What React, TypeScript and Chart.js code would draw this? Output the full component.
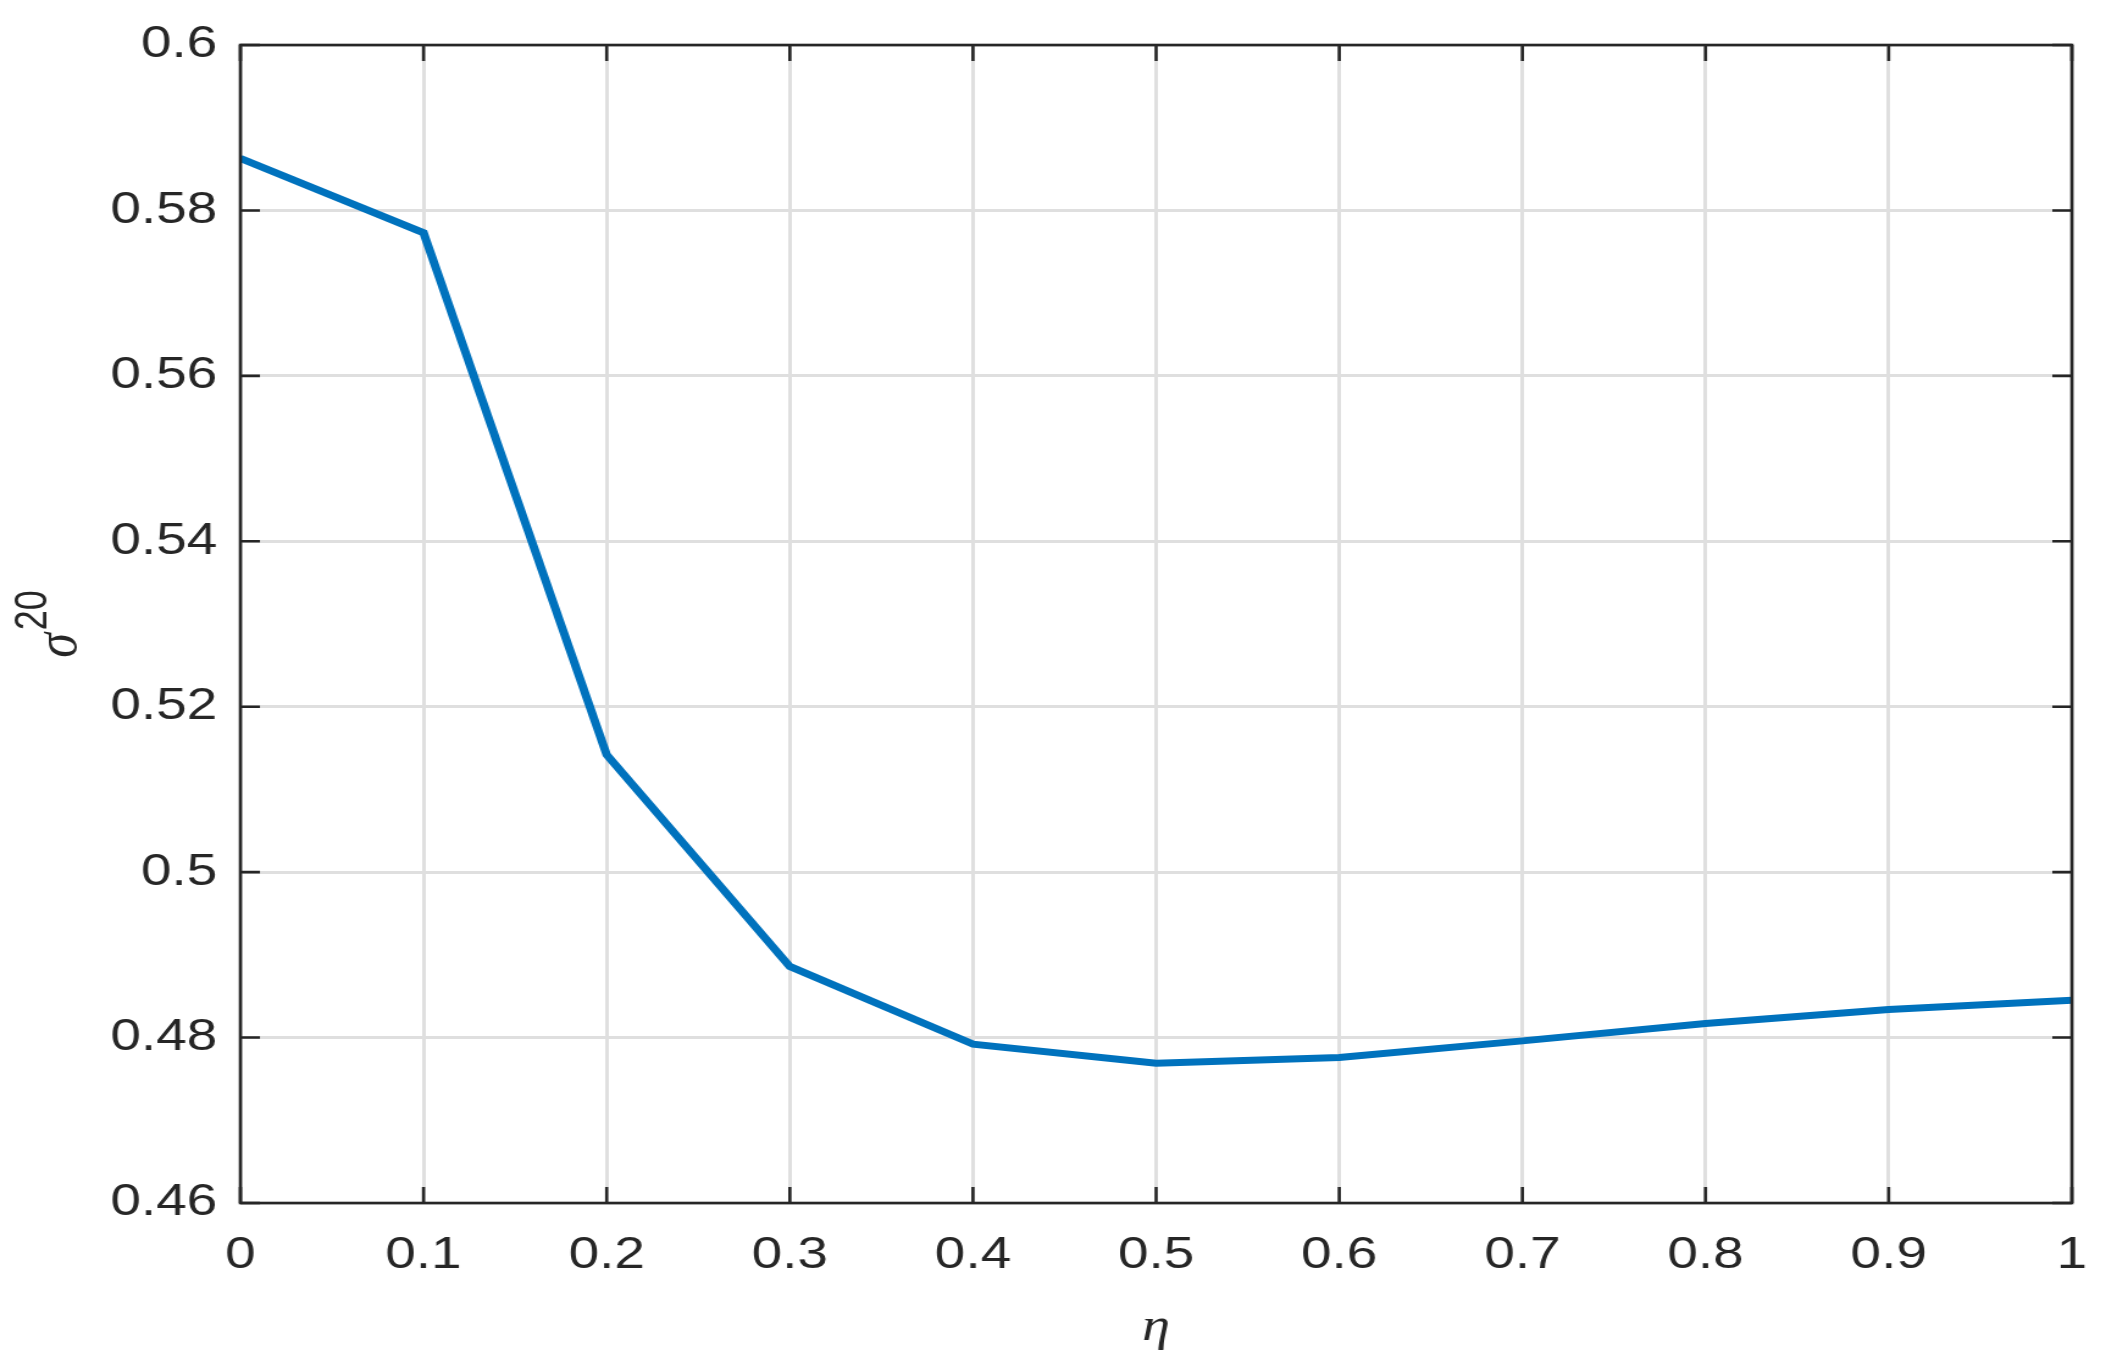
import React, { useEffect, useRef } from "react";
import { Chart, registerables } from "chart.js";

Chart.register(...registerables);

// ---- data ----
const etaValues: number[] = [0, 0.1, 0.2, 0.3, 0.4, 0.5, 0.6, 0.7, 0.8, 0.9, 1];
const sigmaValues: number[] = [0.5863, 0.5773, 0.5142, 0.4886, 0.4792, 0.4769, 0.4776, 0.4796, 0.4817, 0.4834, 0.4845];
const xTickRange = { min: 0, max: 1, step: 0.1 };
const yTickRange = { min: 0.46, max: 0.6, step: 0.02 };
const xTitle = "η";
const yTitleBase = "σ";
const yTitleSup = "20";

// ---- style ----
const OUT_W = 2106;
const OUT_H = 1368;
const STRETCH = 1.2202;
const IN_W = Math.round(OUT_W / STRETCH);
const AXIS_COLOR = "#262626";
const GRID_COLOR = "#dfdfdf";
const LINE_COLOR = "#0072BD";
const TICK_LEN = 16;

const fmt = (v: number) => String(Math.round(v * 1000) / 1000);

const framePlugin = {
  id: "matlabFrame",
  afterDraw(chart: any) {
    const { ctx, chartArea: a, scales } = chart;
    const xs = scales.x;
    const ys = scales.y;
    ctx.save();
    ctx.strokeStyle = AXIS_COLOR;
    ctx.lineWidth = 2.6;
    ctx.beginPath();
    xs.ticks.forEach((t: any) => {
      const px = xs.getPixelForValue(t.value);
      ctx.moveTo(px, a.bottom);
      ctx.lineTo(px, a.bottom - TICK_LEN);
      ctx.moveTo(px, a.top);
      ctx.lineTo(px, a.top + TICK_LEN);
    });
    ys.ticks.forEach((t: any) => {
      const py = ys.getPixelForValue(t.value);
      ctx.moveTo(a.left, py);
      ctx.lineTo(a.left + TICK_LEN, py);
      ctx.moveTo(a.right, py);
      ctx.lineTo(a.right - TICK_LEN, py);
    });
    ctx.stroke();
    ctx.strokeRect(a.left, a.top, a.right - a.left, a.bottom - a.top);

    // y-axis title: sigma with superscript 20, rotated
    const cy = (a.top + a.bottom) / 2;
    ctx.translate(63, cy);
    ctx.rotate(-Math.PI / 2);
    ctx.fillStyle = AXIS_COLOR;
    ctx.textBaseline = "alphabetic";
    ctx.textAlign = "left";
    const baseFont = 'italic 50px "Liberation Serif"';
    const supFont = '36px "Liberation Sans"';
    ctx.font = baseFont;
    const wS = ctx.measureText(yTitleBase).width;
    ctx.font = supFont;
    const w2 = ctx.measureText(yTitleSup).width;
    const gap = 3;
    const total = wS + gap + w2;
    const x0 = -total / 2;
    ctx.font = baseFont;
    ctx.fillText(yTitleBase, x0, 0);
    ctx.font = supFont;
    ctx.fillText(yTitleSup, x0 + wS + gap, -25);
    ctx.restore();
  },
};

export default function App() {
  const ref = useRef<HTMLCanvasElement | null>(null);

  useEffect(() => {
    document.body.style.margin = "0";
    const canvas = ref.current;
    if (!canvas) return;
    const chart = new Chart(canvas, {
      type: "line",
      data: {
        datasets: [
          {
            data: etaValues.map((x, i) => ({ x, y: sigmaValues[i] })),
            borderColor: LINE_COLOR,
            backgroundColor: LINE_COLOR,
            borderWidth: 7,
            pointRadius: 0,
            tension: 0,
            fill: false,
          },
        ],
      },
      options: {
        responsive: false,
        animation: false,
        devicePixelRatio: 1,
        layout: { padding: { left: 0, right: 28, top: 45, bottom: 0 } },
        plugins: { legend: { display: false }, tooltip: { enabled: false } },
        scales: {
          x: {
            type: "linear",
            min: xTickRange.min,
            max: xTickRange.max,
            afterFit: (s: any) => {
              s.height = 165;
              s.paddingLeft = 0;
              s.paddingRight = 0;
            },
            ticks: {
              stepSize: xTickRange.step,
              autoSkip: false,
              maxRotation: 0,
              padding: 26,
              color: AXIS_COLOR,
              font: { family: '"Liberation Sans", Arial, sans-serif', size: 45 },
              callback: (v: any) => fmt(Number(v)),
            },
            grid: { color: GRID_COLOR, lineWidth: 3, drawTicks: false },
            border: { display: false },
            title: {
              display: true,
              text: xTitle,
              color: AXIS_COLOR,
              font: { family: '"Liberation Serif", serif', style: "italic", size: 46 },
              padding: { top: 0, bottom: 12 },
            },
          },
          y: {
            type: "linear",
            min: yTickRange.min,
            max: yTickRange.max,
            afterFit: (s: any) => {
              s.width = 197;
              s.paddingTop = 0;
              s.paddingBottom = 0;
            },
            ticks: {
              stepSize: yTickRange.step,
              autoSkip: false,
              padding: 19,
              color: AXIS_COLOR,
              font: { family: '"Liberation Sans", Arial, sans-serif', size: 45 },
              callback: (v: any) => fmt(Number(v)),
            },
            grid: { color: GRID_COLOR, lineWidth: 3, drawTicks: false },
            border: { display: false },
          },
        },
      },
      plugins: [framePlugin],
    } as any);
    return () => chart.destroy();
  }, []);

  return (
    <canvas
      ref={ref}
      width={IN_W}
      height={OUT_H}
      style={{ width: OUT_W + "px", height: OUT_H + "px", display: "block" }}
    />
  );
}
